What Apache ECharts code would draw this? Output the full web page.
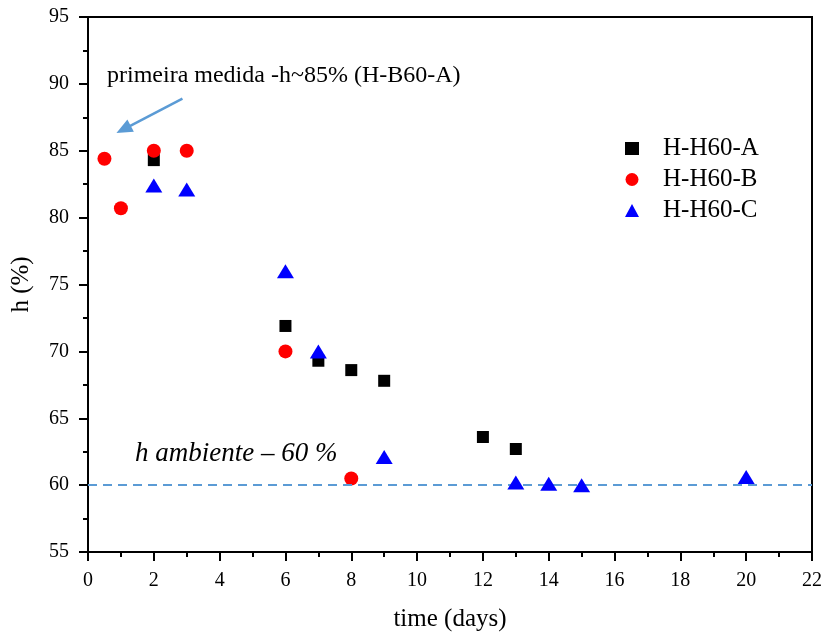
<!DOCTYPE html>
<html>
<head>
<meta charset="utf-8">
<script src="https://cdn.jsdelivr.net/npm/echarts@6/dist/echarts.min.js"></script>
<style>
  html, body { margin: 0; padding: 0; background: #fff; }
  #chart { width: 825px; height: 637px; }
</style>
</head>
<body>
<div id="chart"></div>
<script>
// measured humidity h (%) vs time (days)
const seriesA = [[2, 84.3], [6, 71.9], [7, 69.3], [8, 68.6], [9, 67.8], [12, 63.6], [13, 62.7]];
const seriesB = [[0.5, 84.4], [1, 80.7], [2, 85.0], [3, 85.0], [6, 70.0], [8, 60.5]];
const seriesC = [[2, 82.4], [3, 82.1], [6, 76.0], [7, 70.0], [9, 62.1], [13, 60.2], [14, 60.1], [15, 60.0], [20, 60.6]];
const names = ["H-H60-A", "H-H60-B", "H-H60-C"];
const ambient = 60;
const arrowFrom = [2.87, 88.9];
const arrowTo = [1.08, 86.6];

const font = "'Liberation Serif', 'DejaVu Serif', serif";
let chart = echarts.init(document.getElementById("chart"));

let option = {
  animation: false,
  grid: {
    left: 88, right: 10, top: 17, bottom: 85,
    show: true, borderColor: "#000", borderWidth: 2,
  },
  legend: {
    data: names,
    orient: "vertical",
    left: 620,
    top: 131,
    itemWidth: 14,
    itemHeight: 13,
    itemGap: 6,
    textStyle: { fontFamily: font, fontSize: 25, color: "#000", padding: [0, 0, 0, 19] },
  },
  xAxis: {
    type: "value",
    min: 0, max: 22, interval: 2,
    name: "time (days)",
    nameLocation: "middle",
    nameGap: 55,
    nameTextStyle: { fontFamily: font, fontSize: 25, color: "#000" },
    axisLine: { lineStyle: { color: "#000", width: 2 } },
    axisTick: { length: 9, lineStyle: { width: 2 } },
    minorTick: { show: true, splitNumber: 2, length: 5, lineStyle: { color: "#000", width: 2 } },
    axisLabel: { fontFamily: font, fontSize: 20, color: "#000", margin: 19 },
    splitLine: { show: false },
  },
  yAxis: {
    type: "value",
    min: 55, max: 95, interval: 5,
    name: "h (%)",
    nameLocation: "middle",
    nameGap: 54,
    nameTextStyle: { fontFamily: font, fontSize: 25, color: "#000" },
    axisLine: { lineStyle: { color: "#000", width: 2 } },
    axisTick: { length: 9, lineStyle: { width: 2 } },
    minorTick: { show: true, splitNumber: 2, length: 5, lineStyle: { color: "#000", width: 2 } },
    axisLabel: { fontFamily: font, fontSize: 20, color: "#000", margin: 19 },
    splitLine: { show: false },
  },
  graphic: [
    {
      type: "text", left: 107, top: 64,
      style: { text: "primeira medida -h~85% (H-B60-A)", font: "24px " + font, fill: "#000" },
    },
    {
      type: "text", left: 135, top: 440,
      style: { text: "h ambiente \u2013 60 %", font: "italic 27px " + font, fill: "#000" },
    },
  ],
  series: [
    {
      name: names[0], type: "scatter", symbol: "rect", symbolSize: 12,
      itemStyle: { color: "#000", opacity: 1 }, data: seriesA, z: 3,
      markLine: {
        silent: true, symbol: "none",
        lineStyle: { color: "#5b9bd5", type: [9, 6], width: 2 },
        label: { show: false },
        data: [{ yAxis: ambient }],
      },
    },
    {
      name: names[1], type: "scatter", symbol: "circle", symbolSize: 14,
      itemStyle: { color: "#ff0000", opacity: 1 }, data: seriesB, z: 4,
      markLine: {
        silent: true, symbol: ["none", "triangle"], symbolSize: [14, 16],
        lineStyle: { color: "#5b9bd5", type: "solid", width: 2.5 },
        label: { show: false },
        data: [[{ coord: arrowFrom }, { coord: arrowTo }]],
      },
    },
    {
      name: names[2], type: "scatter", symbol: "triangle", symbolSize: [17, 14],
      itemStyle: { color: "#0000ff", opacity: 1 }, data: seriesC, z: 5,
    },
  ],
};
chart.setOption(option);
</script>
</body>
</html>
